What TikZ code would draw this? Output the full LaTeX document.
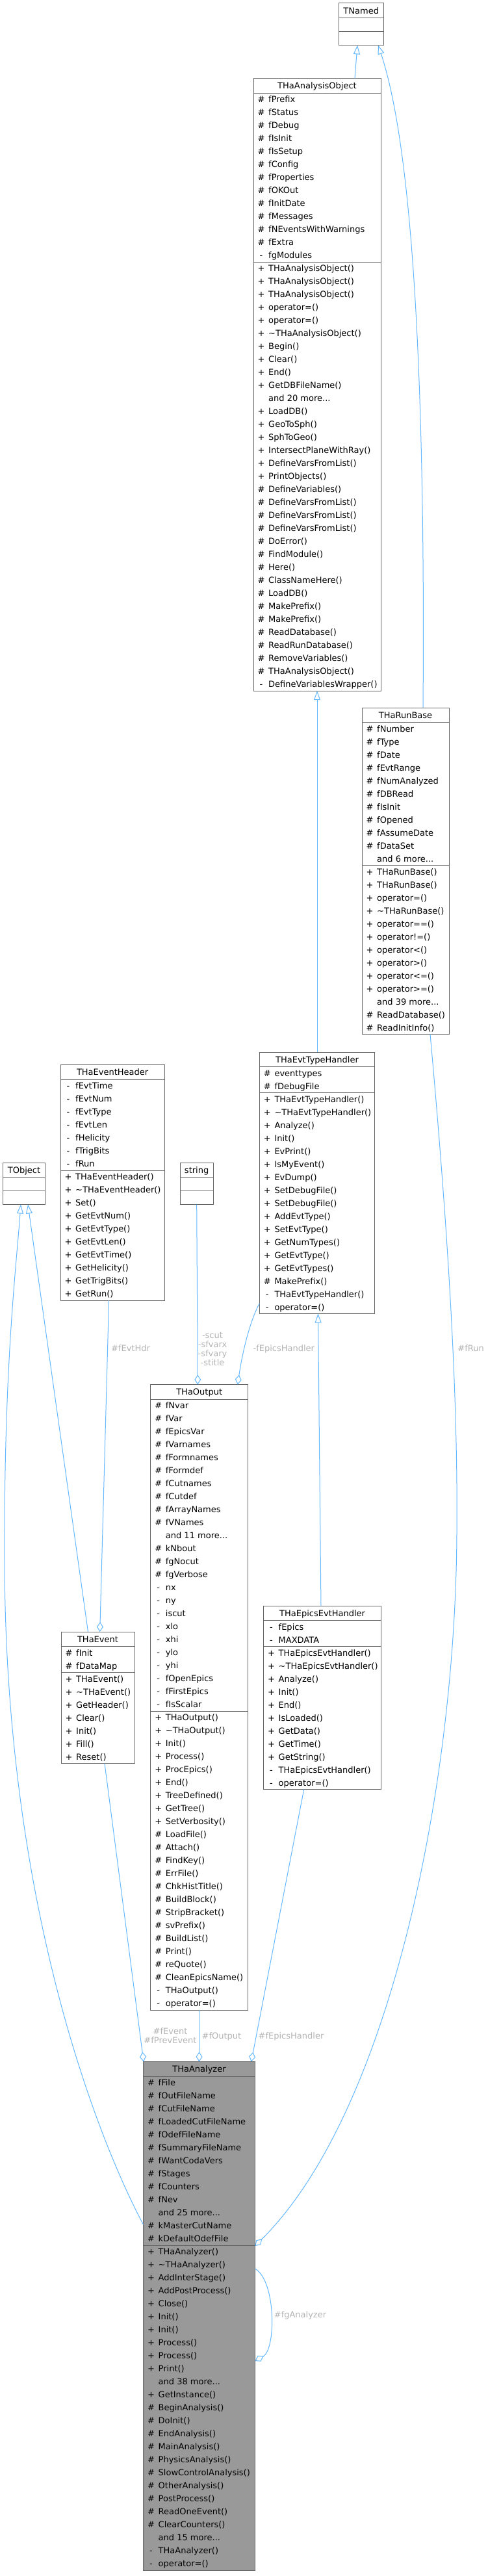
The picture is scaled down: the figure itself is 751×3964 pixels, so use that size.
\documentclass[tikz,border=0pt]{standalone}
\usepackage{fontspec}
\setmainfont{DejaVu Sans}
\usetikzlibrary{arrows.meta}
\definecolor{boxc}{HTML}{666666}
\definecolor{edgec}{HTML}{63B8FF}
\definecolor{lblc}{HTML}{B4B4B4}
\definecolor{mainfill}{HTML}{999999}
\newcommand{\mydots}{...}
\def\umlfill{white}
\tikzset{
  classbox/.style={draw=boxc, line width=1pt, inner sep=0pt, outer sep=0pt, anchor=north west},
  rowtxt/.style={inner sep=0pt, font=\fontsize{13}{15}\selectfont},
  inh/.style={draw=edgec, line width=1pt, -{Triangle[open, length=14pt, width=10pt]}},
  agg/.style={draw=edgec, line width=1pt, -{Diamond[open, length=15pt, width=10pt]}},
  lbl/.style={text=lblc, inner sep=0pt, align=center, font=\fontsize{13}{14.2}\selectfont},
}
% #1 name, #2 x, #3 y, #4 width, #5 title, #6 n attrs, #7 n methods, #8 attrs, #9 methods
\newcommand{\umlclass}[9]{%
  \pgfmathsetmacro{\umlHa}{(#6>0) ? #6*20 : 21}%
  \pgfmathsetmacro{\umlHm}{(#7>0) ? #7*20 : 21}%
  \pgfmathsetmacro{\umlYt}{#3+22.5}%
  \pgfmathsetmacro{\umlYs}{\umlYt+\umlHa}%
  \pgfmathsetmacro{\umlHh}{22.5+\umlHa+\umlHm}%
  \node[classbox, fill=\umlfill, minimum width=#4pt, minimum height=\umlHh pt] (#1) at (#2,#3) {};
  \draw[boxc, line width=1pt] (#2,\umlYt) -- ++(#4,0);
  \draw[boxc, line width=1pt] (#2,\umlYs) -- ++(#4,0);
  \node[rowtxt, anchor=base] at ({#2+#4/2},{#3+16.2}) {#5};
  \ifnum#6>0
    \foreach \umlsym/\umltxt [count=\i] in {#8} {
      \node[rowtxt, anchor=base] at ({#2+12},{\umlYt+(\i-1)*20+14.7}) {\umlsym};
      \node[rowtxt, anchor=base west] at ({#2+23},{\umlYt+(\i-1)*20+14.7}) {\umltxt};
    }
  \fi
  \ifnum#7>0
    \foreach \umlsym/\umltxt [count=\i] in {#9} {
      \node[rowtxt, anchor=base] at ({#2+12},{\umlYs+(\i-1)*20+14.7}) {\umlsym};
      \node[rowtxt, anchor=base west] at ({#2+23},{\umlYs+(\i-1)*20+14.7}) {\umltxt};
    }
  \fi
}
\begin{document}
\begin{tikzpicture}[x=1pt, y=-1pt]
\useasboundingbox[fill=white] (0,0) rectangle (751,3964);

\umlclass{tnamed}{521}{5}{69.5}{TNamed}{0}{0}{}{}

\umlclass{thaobj}{390}{120.5}{196}{THaAnalysisObject}{13}{33}
{\#/fPrefix, \#/fStatus, \#/fDebug, \#/fIsInit, \#/fIsSetup, \#/fConfig, \#/fProperties, \#/fOKOut, \#/fInitDate, \#/fMessages, \#/fNEventsWithWarnings, \#/fExtra, -/fgModules}
{+/THaAnalysisObject(), +/THaAnalysisObject(), +/THaAnalysisObject(), +/operator=(), +/operator=(), +/\textasciitilde THaAnalysisObject(), +/Begin(), +/Clear(), +/End(), +/GetDBFileName(), {}/and 20 more\mydots, +/LoadDB(), +/GeoToSph(), +/SphToGeo(), +/IntersectPlaneWithRay(), +/DefineVarsFromList(), +/PrintObjects(), \#/DefineVariables(), \#/DefineVarsFromList(), \#/DefineVarsFromList(), \#/DefineVarsFromList(), \#/DoError(), \#/FindModule(), \#/Here(), \#/ClassNameHere(), \#/LoadDB(), \#/MakePrefix(), \#/MakePrefix(), \#/ReadDatabase(), \#/ReadRunDatabase(), \#/RemoveVariables(), \#/THaAnalysisObject(), -/DefineVariablesWrapper()}

\umlclass{runbase}{557}{1089}{134}{THaRunBase}{11}{13}
{\#/fNumber, \#/fType, \#/fDate, \#/fEvtRange, \#/fNumAnalyzed, \#/fDBRead, \#/fIsInit, \#/fOpened, \#/fAssumeDate, \#/fDataSet, {}/and 6 more\mydots}
{+/THaRunBase(), +/THaRunBase(), +/operator=(), +/\textasciitilde THaRunBase(), +/operator==(), +/operator!=(), +/operator<(), +/operator>(), +/operator<=(), +/operator>=(), {}/and 39 more\mydots, \#/ReadDatabase(), \#/ReadInitInfo()}

\umlclass{header}{93}{1638.7}{160.3}{THaEventHeader}{7}{10}
{-/fEvtTime, -/fEvtNum, -/fEvtType, -/fEvtLen, -/fHelicity, -/fTrigBits, -/fRun}
{+/THaEventHeader(), +/\textasciitilde THaEventHeader(), +/Set(), +/GetEvtNum(), +/GetEvtType(), +/GetEvtLen(), +/GetEvtTime(), +/GetHelicity(), +/GetTrigBits(), +/GetRun()}

\umlclass{evttype}{399.3}{1619}{177.4}{THaEvtTypeHandler}{2}{17}
{\#/eventtypes, \#/fDebugFile}
{+/THaEvtTypeHandler(), +/\textasciitilde THaEvtTypeHandler(), +/Analyze(), +/Init(), +/EvPrint(), +/IsMyEvent(), +/EvDump(), +/SetDebugFile(), +/SetDebugFile(), +/AddEvtType(), +/SetEvtType(), +/GetNumTypes(), +/GetEvtType(), +/GetEvtTypes(), \#/MakePrefix(), -/THaEvtTypeHandler(), -/operator=()}

\umlclass{tobject}{4.7}{1789}{64.6}{TObject}{0}{0}{}{}
\umlclass{string}{277}{1789}{51.3}{string}{0}{0}{}{}

\umlclass{output}{231.7}{2130.5}{150}{THaOutput}{24}{23}
{\#/fNvar, \#/fVar, \#/fEpicsVar, \#/fVarnames, \#/fFormnames, \#/fFormdef, \#/fCutnames, \#/fCutdef, \#/fArrayNames, \#/fVNames, {}/and 11 more\mydots, \#/kNbout, \#/fgNocut, \#/fgVerbose, -/nx, -/ny, -/iscut, -/xlo, -/xhi, -/ylo, -/yhi, -/fOpenEpics, -/fFirstEpics, -/fIsScalar}
{+/THaOutput(), +/\textasciitilde THaOutput(), +/Init(), +/Process(), +/ProcEpics(), +/End(), +/TreeDefined(), +/GetTree(), +/SetVerbosity(), \#/LoadFile(), \#/Attach(), \#/FindKey(), \#/ErrFile(), \#/ChkHistTitle(), \#/BuildBlock(), \#/StripBracket(), \#/svPrefix(), \#/BuildList(), \#/Print(), \#/reQuote(), \#/CleanEpicsName(), -/THaOutput(), -/operator=()}

\umlclass{epics}{405.5}{2471}{181.2}{THaEpicsEvtHandler}{2}{11}
{-/fEpics, -/MAXDATA}
{+/THaEpicsEvtHandler(), +/\textasciitilde THaEpicsEvtHandler(), +/Analyze(), +/Init(), +/End(), +/IsLoaded(), +/GetData(), +/GetTime(), +/GetString(), -/THaEpicsEvtHandler(), -/operator=()}

\umlclass{thaevent}{94}{2511}{113}{THaEvent}{2}{7}
{\#/fInit, \#/fDataMap}
{+/THaEvent(), +/\textasciitilde THaEvent(), +/GetHeader(), +/Clear(), +/Init(), +/Fill(), +/Reset()}

\def\umlfill{mainfill}
\umlclass{analyzer}{220.5}{3172.5}{172}{THaAnalyzer}{13}{25}
{\#/fFile, \#/fOutFileName, \#/fCutFileName, \#/fLoadedCutFileName, \#/fOdefFileName, \#/fSummaryFileName, \#/fWantCodaVers, \#/fStages, \#/fCounters, \#/fNev, {}/and 25 more\mydots, \#/kMasterCutName, \#/kDefaultOdefFile}
{+/THaAnalyzer(), +/\textasciitilde THaAnalyzer(), +/AddInterStage(), +/AddPostProcess(), +/Close(), +/Init(), +/Init(), +/Process(), +/Process(), +/Print(), {}/and 38 more\mydots, +/GetInstance(), \#/BeginAnalysis(), \#/DoInit(), \#/EndAnalysis(), \#/MainAnalysis(), \#/PhysicsAnalysis(), \#/SlowControlAnalysis(), \#/OtherAnalysis(), \#/PostProcess(), \#/ReadOneEvent(), \#/ClearCounters(), {}/and 15 more\mydots, -/THaAnalyzer(), -/operator=()}

% inheritance
\draw[inh] (546,0 |- thaobj.north) -- (550,0 |- tnamed.south);
\draw[inh] (651,0 |- runbase.north) .. controls (655,550) and (632,220) .. (582,0 |- tnamed.south);
\draw[inh] (evttype.north) -- (thaobj.south);
\draw[inh] (494,0 |- epics.north) -- (489.5,0 |- evttype.south);
\draw[inh] (135.5,0 |- thaevent.north) -- (43,0 |- tobject.south);
\draw[inh] (analyzer.west |- 0,3423) .. controls (160,3310) and (8,2950) .. (7,2400) .. controls (6,2100) and (25,1950) .. (32,0 |- tobject.south);

% aggregation
\draw[agg] (167.6,0 |- header.south) -- (153.7,0 |- thaevent.north);
\draw[agg] (302.7,0 |- string.south) -- (304.3,0 |- output.north);
\draw[agg] (evttype.west |- 0,2006) .. controls (390,2022) and (376,2062) .. (365.7,0 |- output.north);
\draw[agg] (161,0 |- thaevent.south) -- (221,0 |- analyzer.north);
\draw[agg] (306.6,0 |- output.south) -- (306.6,0 |- analyzer.north);
\draw[agg] (467.7,0 |- epics.south) -- (386.7,0 |- analyzer.north);
\draw[agg] (662,0 |- runbase.south) .. controls (690,1900) and (705,2150) .. (703,2360) .. controls (701,2750) and (600,3250) .. (analyzer.east |- 0,3456);
\draw[agg] (analyzer.east |- 0,3491) .. controls (425,3510) and (425,3615) .. (analyzer.east |- 0,3633);

% labels
\node[lbl] (l1) at (201,2075) {\#fEvtHdr};
\node[lbl] (l2) at (327,2076) {-scut\\-sfvarx\\-sfvary\\-stitle};
\node[lbl] (l3) at (436.8,2076) {-fEpicsHandler};
\node[lbl] (l4) at (724.6,2075) {\#fRun};
\node[lbl] (l5) at (262,3133) {\#fEvent\\\#fPrevEvent};
\node[lbl] (l6) at (341,3134) {\#fOutput};
\node[lbl] (l7) at (448,3134) {\#fEpicsHandler};
\node[lbl] (l8) at (462,3563) {\#fgAnalyzer};
\end{tikzpicture}
\end{document}
